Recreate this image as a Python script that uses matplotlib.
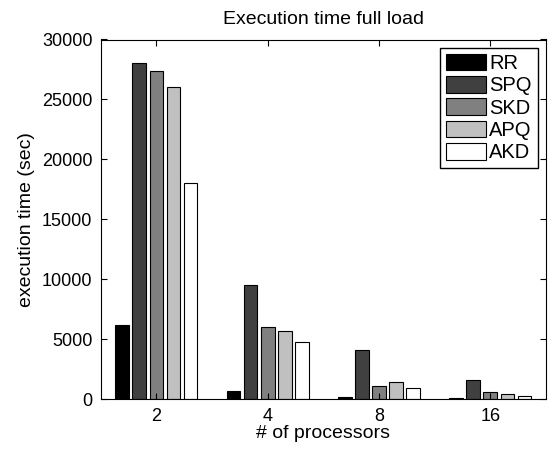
import numpy as np
import matplotlib
matplotlib.use('Agg')
from matplotlib import pyplot as plt

plt.rcParams['font.family'] = ['Liberation Sans', 'DejaVu Sans']

processors = ['2', '4', '8', '16']
policies = ['RR', 'SPQ', 'SKD', 'APQ', 'AKD']
rr = [6200, 720, 190, 80]
spq = [28000, 9500, 4080, 1610]
skd = [27400, 6000, 1080, 580]
apq = [26000, 5700, 1470, 410]
akd = [18000, 4750, 970, 250]
series = [rr, spq, skd, apq, akd]
colors = ['#000000', '#404040', '#808080', '#c0c0c0', '#ffffff']

fig = plt.figure(figsize=(5.52, 4.49), dpi=100)
ax = fig.add_axes([100.7 / 552, 1 - 399.3 / 449, 445.3 / 552, 359.8 / 449])

# grouped bars, 5 policies per processor count
x = np.arange(1, len(processors) + 1)
step = 0.769 / len(series)
width = 0.8 * step
for i, (vals, c, name) in enumerate(zip(series, colors, policies)):
    offs = (i - (len(series) - 1) / 2) * step
    ax.bar(x + offs, vals, width, color=c, edgecolor='black', linewidth=0.8, label=name)

ax.set_xlim(0.5, 4.5)
ax.set_ylim(0, 30000)
ax.set_xticks(x)
ax.set_xticklabels(processors)
ax.set_yticks(np.arange(0, 30001, 5000))
ax.tick_params(direction='in', top=True, right=True, labelsize=13, length=4, width=0.8, pad=6)
for s in ax.spines.values():
    s.set_linewidth(0.8)

ax.set_title('Execution time full load', fontsize=14, pad=11)
ax.set_xlabel('# of processors', fontsize=14, labelpad=0)
ax.set_ylabel('execution time (sec)', fontsize=14, labelpad=5)

leg = ax.legend(loc='upper right', fontsize=14.5, fancybox=False, framealpha=1,
                edgecolor='black', handlelength=2.0, handleheight=0.9,
                handletextpad=0.15, labelspacing=0.15, borderpad=0.3,
                borderaxespad=0.4)
leg.get_frame().set_linewidth(1.0)

fig.savefig('out.png', dpi=100)
